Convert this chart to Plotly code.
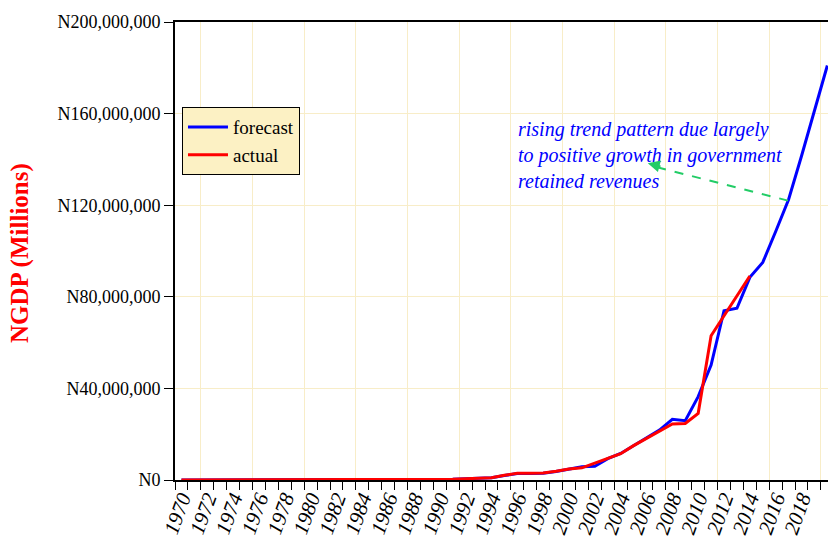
import plotly.graph_objects as go

# NGDP in naira millions
actual_years = list(range(1970, 2015))
actual = [
    5000, 6500, 7000, 9000, 17000, 21000, 27000, 32000, 36000, 43000,
    50000, 51000, 52000, 57000, 63000, 72000, 73000, 103000, 146000, 222000,
    260000, 325000, 550000, 700000, 1000000, 2100000, 2900000, 2900000, 3100000, 3800000,
    4800000, 5300000, 7300000, 9400000, 11500000, 15000000, 18200000, 21100000, 24500000, 24700000,
    29100000, 63000000, 71600000, 80200000, 89100000,
]

forecast_years = list(range(1970, 2021))
forecast = [
    5000, 6500, 7000, 9000, 17000, 21000, 27000, 32000, 36000, 43000,
    50000, 51000, 52000, 57000, 63000, 72000, 73000, 103000, 146000, 222000,
    260000, 325000, 550000, 700000, 1000000, 2000000, 2800000, 2800000, 3000000, 3700000,
    4900000, 5800000, 6000000, 9300000, 11600000, 15100000, 18500000, 21800000, 26500000, 25900000,
    36400000, 50200000, 73900000, 75000000, 88500000, 95000000, 108500000, 122500000, 141500000, 161000000,
    181000000,
]

label_years = list(range(1970, 2021, 2))
label_text = [str(y) for y in label_years]
y_ticks = [0, 40000000, 80000000, 120000000, 160000000, 200000000]
y_text = ["N0", "N40,000,000", "N80,000,000", "N120,000,000", "N160,000,000", "N200,000,000"]

note = "rising trend pattern due largely<br>to positive growth in government<br>retained revenues"
grid = "#F8EDC8"
serif = "Liberation Serif"

fig = go.Figure()
fig.add_trace(go.Scatter(x=forecast_years, y=forecast, name="forecast", mode="lines",
                         line=dict(color="#0000FF", width=3)))
fig.add_trace(go.Scatter(x=actual_years, y=actual, name="actual", mode="lines",
                         line=dict(color="#FF0000", width=3)))
# invisible trace on the overlay axis so its grid is drawn
fig.add_trace(go.Scatter(x=[1970], y=[0], xaxis="x2", mode="lines", showlegend=False,
                         hoverinfo="skip", line=dict(width=0)))

x_range = [1969.5, 2020.05]

fig.update_layout(
    width=828, height=536,
    margin=dict(l=175, r=0, t=22, b=56),
    paper_bgcolor="white", plot_bgcolor="white",
    font=dict(family=serif, color="black"),
    showlegend=True,
    legend=dict(x=0.0107, y=0.814, xanchor="left", yanchor="top",
                bgcolor="#FCF1C4", bordercolor="black", borderwidth=1,
                font=dict(size=19, family=serif), tracegroupgap=0, itemwidth=40),
    xaxis=dict(
        range=x_range, automargin=False,
        tickmode="array", tickvals=label_years, ticktext=label_text,
        ticks="", tickangle=-70, ticklabelstandoff=-4,
        tickfont=dict(size=21, family=serif, style="italic"),
        showgrid=False, zeroline=False,
        showline=True, linecolor="black", linewidth=2, mirror=True,
        minor=dict(tick0=1969.5, dtick=1, ticks="outside", ticklen=8,
                   tickcolor="black", tickwidth=1, showgrid=False),
    ),
    xaxis2=dict(
        range=x_range, overlaying="x", side="bottom", automargin=False,
        tick0=1971.5, dtick=4, showticklabels=False, ticks="",
        showgrid=True, gridcolor=grid, gridwidth=1, zeroline=False, showline=False,
    ),
    yaxis=dict(
        range=[0, 200000000], automargin=False,
        tickmode="array", tickvals=y_ticks, ticktext=y_text,
        ticks="outside", ticklen=9, tickcolor="black",
        tickfont=dict(size=18, family=serif),
        showgrid=True, gridcolor=grid, zeroline=False,
        showline=True, linecolor="black", linewidth=2, mirror=False,
    ),
)

fig.add_annotation(text="<b>NGDP (Millions)</b>", xref="paper", yref="paper",
                   x=-0.237, y=0.496, xanchor="center", yanchor="middle",
                   textangle=-90, showarrow=False,
                   font=dict(size=25, color="#FF0000", family=serif))

fig.add_annotation(text=note, xref="x", yref="y", x=1995.87, y=141900000,
                   xanchor="left", yanchor="middle", align="left", showarrow=False,
                   font=dict(size=20, color="#0000FF", family=serif, style="italic"))

# dashed green pointer from the forecast line to the note
fig.add_shape(type="line", xref="x", yref="y", x0=2016.95, y0=122000000, x1=2006.6, y1=136900000,
              line=dict(color="#22CC66", width=2, dash="dash"))
fig.add_annotation(text="", xref="x", yref="y", axref="x", ayref="y",
                   x=2006.1, y=138300000, ax=2007.2, ay=136700000,
                   showarrow=True, arrowhead=2, arrowsize=1.2, arrowwidth=2, arrowcolor="#22CC66")

# drop the default page margin so the figure fills the window exactly
fig.write_html("out.html", config={"displayModeBar": False},
               post_script="document.body.style.margin='0';")
